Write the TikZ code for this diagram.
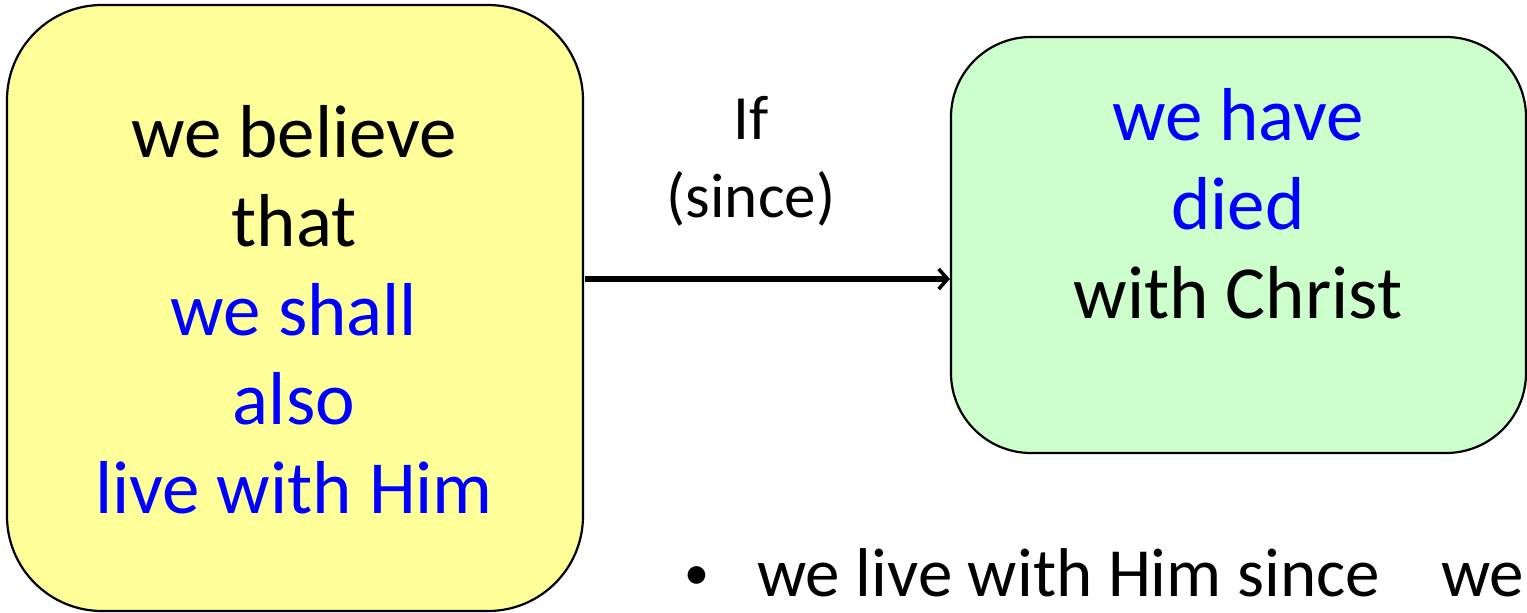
\documentclass[tikz,border=0pt]{standalone}
\usepackage{fontspec}
\setmainfont{Carlito}
\usetikzlibrary{arrows.meta}
\definecolor{boxyellow}{HTML}{FFFF99}
\definecolor{boxgreen}{HTML}{CCFFCC}
\definecolor{txtblue}{HTML}{0000FF}
\begin{document}
\begin{tikzpicture}[x=1pt,y=-1pt,
  bigbox/.style={draw=black, line width=2.2pt, rounded corners=#1},
  bigtext/.style={align=center, font=\fontsize{75}{89}\selectfont, inner sep=0pt},
  labeltext/.style={align=center, font=\fontsize{63}{78}\selectfont, inner sep=0pt},
  bottext/.style={font=\fontsize{69}{89}\selectfont, inner sep=0pt, anchor=base west}]
\useasboundingbox (0,0) rectangle (1527,613);
\clip (0,0) rectangle (1527,613);
% boxes
\path[bigbox=95pt, fill=boxyellow] (7,5) rectangle (583,611);
\node[minimum width=576pt, minimum height=606pt, inner sep=0pt] (L) at (295,308) {};
\path[bigbox=80pt, fill=boxgreen] (951,37) rectangle (1526,453);
\node[minimum width=575pt, minimum height=416pt, inner sep=0pt] (R) at (1238.5,245) {};
% texts
\node[bigtext] (Ltext) at (294,310) {we believe\\that\\\textcolor{txtblue}{we shall}\\\textcolor{txtblue}{also}\\\textcolor{txtblue}{live with Him}};
\node[bigtext] (Rtext) at (1238,204) {\textcolor{txtblue}{we have}\\\textcolor{txtblue}{died}\\with Christ};
\node[labeltext] (lab) at (751,161) {If\\(since)};
% connector
\coordinate (A) at (585,279);
\coordinate (B) at (950,279);
\draw[line width=5.5pt, -{Straight Barb[length=9pt,width=20pt,line width=3.5pt]}] (A) -- (B);
% bottom text
\node[font=\fontsize{50}{89}\selectfont, inner sep=0pt, anchor=base west] (bul) at (684,589) {•};
\node[bottext] (bot) at (757,596) {we live with Him since};
\node[bottext] (bot2) at (1441,596) {we};
\end{tikzpicture}
\end{document}
